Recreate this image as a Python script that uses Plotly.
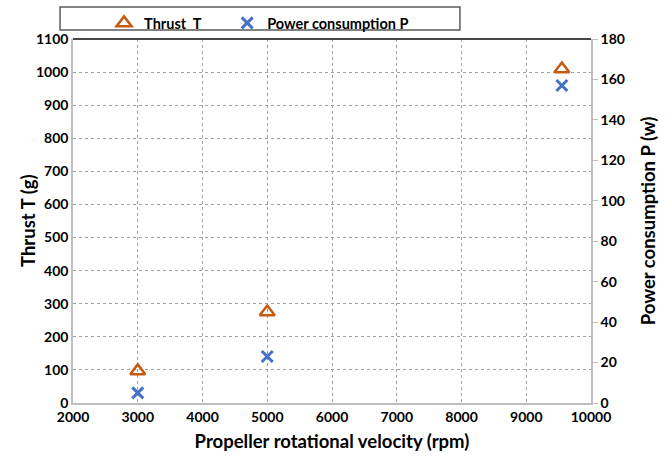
import plotly.graph_objects as go

rpm = [3000, 5000, 9550]
thrust_g = [97, 275, 1009]
power_w = [5, 23, 157]

FONT = "Lato"
orange = "rgb(197, 90, 17)"
blue = "rgb(68, 114, 196)"
grey_line = "rgb(190,190,190)"

fig = go.Figure()

fig.add_trace(go.Scatter(
    x=rpm, y=thrust_g, mode="markers", name="Thrust  T" + "\u00a0" * 6,
    marker=dict(symbol="triangle-up-open", size=13, color=orange, line=dict(width=2.5, color=orange)),
))
fig.add_trace(go.Scatter(
    x=rpm, y=power_w, mode="markers", name="Power consumption P", yaxis="y2",
    marker=dict(symbol="x-thin-open", size=11, color=blue, line=dict(width=3, color=blue)),
))

# legend frame
fig.add_shape(type="rect", xref="paper", yref="paper",
              x0=-0.025, x1=0.747, y0=1.025, y1=1.088,
              line=dict(color="rgb(90,90,90)", width=1.5), fillcolor="white")
# dark top border of the plot area
fig.add_shape(type="line", xref="paper", yref="paper", x0=0, x1=1, y0=1, y1=1,
              line=dict(color="rgb(70,70,70)", width=2))

bold = dict(family=FONT, size=14, color="black", weight="bold")
title_font = dict(family=FONT, size=18.5, color="black", weight="bold")

# left axis title placed by hand so it sits close to the tick labels
fig.add_annotation(text="Thrust T (g)", xref="paper", yref="paper", x=0, y=0.5,
                   xanchor="center", yanchor="middle", xshift=-45, textangle=-90,
                   showarrow=False, font=title_font)

fig.update_layout(
    width=670, height=460,
    margin=dict(l=73, r=79, t=39, b=57, autoexpand=False),
    plot_bgcolor="white", paper_bgcolor="white",
    font=dict(family=FONT, size=14, color="black"),
    showlegend=True,
    legend=dict(orientation="h", x=0.06, xanchor="left", y=1.088, yanchor="top",
                bgcolor="rgba(0,0,0,0)",
                font=dict(size=14.5, family=FONT, weight="bold"), itemwidth=30),
    xaxis=dict(
        range=[2000, 10000], dtick=1000, tickformat="d", tickfont=bold,
        title=dict(text="Propeller rotational velocity (rpm)", font=title_font, standoff=12),
        showgrid=True, gridcolor="rgb(160,160,160)", griddash="dot", gridwidth=1,
        showline=True, linecolor=grey_line, linewidth=1.5,
        ticks="", zeroline=False,
    ),
    yaxis=dict(
        range=[0, 1100], dtick=100, tickformat="d", tickfont=bold,
        showgrid=True, gridcolor="rgb(160,160,160)", griddash="dot", gridwidth=1,
        showline=True, linecolor=grey_line, linewidth=1.5,
        ticks="", zeroline=False,
    ),
    yaxis2=dict(
        range=[0, 180], dtick=20, overlaying="y", side="right", tickfont=bold,
        title=dict(text="Power consumption P (w)", font=title_font, standoff=18),
        showgrid=False, showline=True, linecolor=grey_line, linewidth=1.5,
        ticks="outside", ticklen=5, tickcolor=grey_line, zeroline=False,
    ),
)

fig.write_html("out.html", config={"displayModeBar": False},
               post_script="document.body.style.margin='0px';")
